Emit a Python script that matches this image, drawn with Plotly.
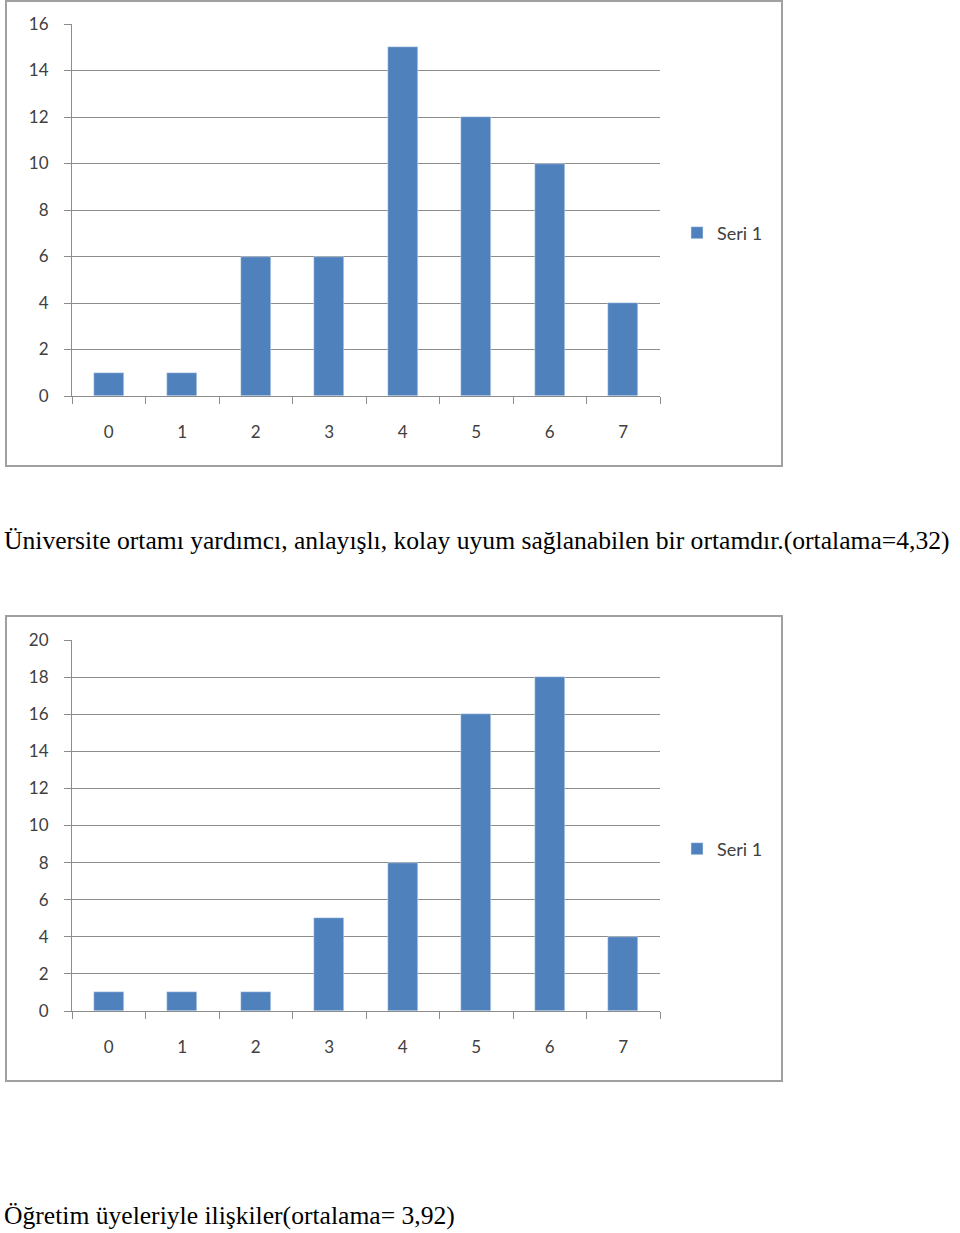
import plotly.graph_objects as go

categories = ["0", "1", "2", "3", "4", "5", "6", "7"]
values_1 = [1, 1, 6, 6, 15, 12, 10, 4]
values_2 = [1, 1, 1, 5, 8, 16, 18, 4]
series_name = "Seri 1"
caption_1 = "Üniversite ortamı yardımcı, anlayışlı, kolay uyum sağlanabilen bir ortamdır.(ortalama=4,32)"
caption_2 = "Öğretim üyeleriyle ilişkiler(ortalama= 3,92)"

W, H = 960, 1233
BAR = "#4F81BD"
GRID = "#8C8C8C"
TICKFONT = dict(family="Lato, Open Sans, sans-serif", size=17, color="#404040")


def px(x):
    return x / W


def py(y):
    return 1 - y / H


fig = go.Figure()
fig.add_trace(go.Bar(x=categories, y=values_1, name=series_name, marker_color=BAR,
                     width=0.41, xaxis="x", yaxis="y", legend="legend"))
fig.add_trace(go.Bar(x=categories, y=values_2, name=series_name, marker_color=BAR,
                     width=0.41, xaxis="x2", yaxis="y2", legend="legend2"))

xcommon = dict(type="category", showgrid=False, showline=True, linecolor=GRID, linewidth=1,
               ticks="outside", ticklen=7, tickcolor=GRID, tickson="boundaries",
               tickfont=TICKFONT, ticklabelstandoff=21, fixedrange=True, automargin=False)
ycommon = dict(showgrid=True, gridcolor=GRID, gridwidth=1, showline=True, linecolor=GRID,
               linewidth=1, ticks="outside", ticklen=7, tickcolor=GRID, dtick=2,
               tickfont=TICKFONT, ticklabelstandoff=12, zeroline=False, fixedrange=True,
               automargin=False)

LEGFONT = dict(family="Lato, Open Sans, sans-serif", size=18, color="#404040")

fig.update_layout(
    width=W, height=H, margin=dict(l=0, r=0, t=0, b=0, autoexpand=False),
    paper_bgcolor="white", plot_bgcolor="white", bargap=0,
    xaxis=dict(domain=[px(72), px(660)], anchor="y", **xcommon),
    yaxis=dict(domain=[py(396), py(24)], anchor="x", range=[0, 16], **ycommon),
    xaxis2=dict(domain=[px(72), px(660)], anchor="y2", **xcommon),
    yaxis2=dict(domain=[py(1011), py(640)], anchor="x2", range=[0, 20], **ycommon),
    legend=dict(x=px(677), y=py(233), xanchor="left", yanchor="middle",
                font=LEGFONT, bgcolor="rgba(0,0,0,0)", itemwidth=30),
    legend2=dict(x=px(677), y=py(849), xanchor="left", yanchor="middle",
                 font=LEGFONT, bgcolor="rgba(0,0,0,0)", itemwidth=30),
    showlegend=True,
)

fig.add_shape(type="rect", xref="paper", yref="paper", x0=px(6), x1=px(782), y0=py(466), y1=py(1),
              line=dict(color="#A0A0A0", width=2), layer="below")
fig.add_shape(type="rect", xref="paper", yref="paper", x0=px(6), x1=px(782), y0=py(1081), y1=py(616),
              line=dict(color="#A0A0A0", width=2), layer="below")

fig.add_annotation(text=caption_1, xref="paper", yref="paper", x=px(2), y=py(541),
                   xanchor="left", yanchor="middle", showarrow=False,
                   font=dict(family="Liberation Serif, Times New Roman, serif", size=25.6, color="black"))
fig.add_annotation(text=caption_2, xref="paper", yref="paper", x=px(2), y=py(1215),
                   xanchor="left", yanchor="middle", showarrow=False,
                   font=dict(family="Liberation Serif, Times New Roman, serif", size=25.6, color="black"))

fig.write_html("out.html")
